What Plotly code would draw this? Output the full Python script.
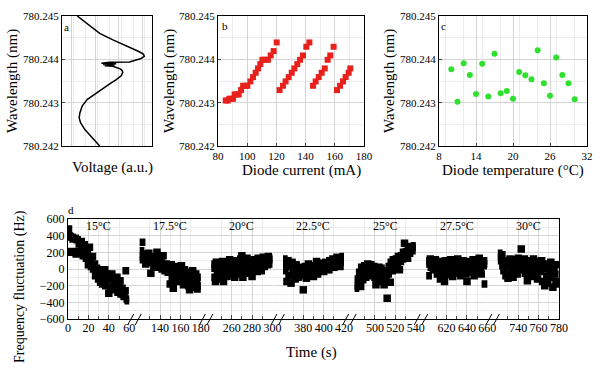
import plotly.graph_objects as go

# ---------------- Panel a: voltage vs wavelength ----------------
volt_a = [0.169, 0.279, 0.419, 0.566, 0.732, 0.853, 0.904, 0.915, 0.879, 0.824,
          0.805, 0.75, 0.53, 0.4375, 0.603, 0.456, 0.585, 0.474, 0.566, 0.621,
          0.647, 0.669, 0.676, 0.658, 0.603, 0.522, 0.4375, 0.353, 0.279, 0.224,
          0.199, 0.191, 0.206, 0.254, 0.316, 0.371, 0.419]
wl_a = [780.24500, 780.24483, 780.24460, 780.24445, 780.24430, 780.24418, 780.24412, 780.24407, 780.24402, 780.24399,
        780.24397, 780.24394, 780.24393, 780.24391, 780.24390, 780.24388, 780.24387, 780.24385, 780.24384, 780.24381,
        780.24378, 780.24374, 780.24370, 780.24362, 780.24353, 780.24342, 780.24330, 780.24319, 780.24307, 780.24292,
        780.24277, 780.24265, 780.24254, 780.24238, 780.24223, 780.24211, 780.24200]

# ---------------- Panel b: diode current vs wavelength ----------------
cur_b = [85.3, 86.6, 87.8, 88.9, 90.3, 91.4, 92.8, 94.2, 95.8, 97.2, 98.8, 100.1, 102.2, 104.0, 105.8,
         107.4, 109.0, 110.4, 112.2, 114.2, 116.1, 118.1, 120.2,
         122.2, 124.5, 126.3, 128.4, 130.5, 132.3, 134.3, 136.2, 138.2, 140.5, 142.6,
         145.1, 146.9, 149.0, 151.0, 153.1, 155.1, 156.9, 159.2,
         161.5, 163.6, 165.6, 167.4, 169.5, 170.6]
wl_b = [780.24305, 780.24305, 780.24309, 780.24309, 780.24309, 780.24319, 780.24319, 780.24319, 780.24329, 780.24339,
        780.24339, 780.24339, 780.24349, 780.24359, 780.24369, 780.24379, 780.24389, 780.24399, 780.24399, 780.24399,
        780.24409, 780.24419, 780.24439,
        780.24329, 780.24339, 780.24349, 780.24359, 780.24369, 780.24379, 780.24389, 780.24399, 780.24409, 780.24429, 780.24439,
        780.24339, 780.24349, 780.24359, 780.24369, 780.24379, 780.24399, 780.24409, 780.24429,
        780.24329, 780.24339, 780.24349, 780.24359, 780.24369, 780.24379]

# ---------------- Panel c: diode temperature vs wavelength ----------------
temp_c = [10, 11, 12, 13, 14, 15, 16, 17, 18, 19, 20, 21, 22, 23, 24, 25, 26, 27, 28, 29, 30]
wl_c = [780.24377, 780.24302, 780.24391, 780.24364, 780.24320, 780.24390, 780.24314, 780.24413, 780.24322, 780.24327,
        780.24309, 780.24371, 780.24363, 780.24354, 780.24421, 780.24345, 780.24316, 780.24404, 780.24364, 780.24345,
        780.24308]

# ---------------- Panel d: frequency fluctuation vs time ----------------
seg_labels = ["15°C", "17.5°C", "20°C", "22.5°C", "25°C", "27.5°C", "30°C"]
seg_start = [0, 120, 240, 360, 480, 600, 720]
seg_ticks = [[0, 20, 40, 60], [140, 160, 180], [260, 280, 300], [380, 400, 420],
             [500, 520, 540], [620, 640, 660], [740, 760, 780]]

t_15 = [0.5, 1, 1.5, 2, 3, 4, 5, 6, 7, 8, 9, 10, 11, 12, 13, 14, 15, 16, 17, 18,
        19, 20, 21, 22, 23, 24, 25, 26, 27, 28, 29, 30, 31, 32, 33, 34, 35, 36, 37, 38,
        39, 40, 41, 42, 43, 44, 45, 46, 47, 48, 49, 50, 51, 52, 53, 54, 55, 56, 57, 58, 59]
f_15 = [480, 400, 200, 390, 210, 380, 360, 200, 370, 180, 350, 210, 300, 190, 330, 250, 160, 290, 230, 130,
        180, 50, 260, 130, 30, 150, 0, 60, -80, 10, -40, -120, -10, -160, -60, -180, -100, -10, -200, -60,
        -130, -290, -90, -220, -60, -250, -130, -170, -240, -100, -280, -200, -140, -300, -230, -280, -330, -260, -20, -360, -380]

t_175 = [121, 121.5, 122, 123, 124, 125, 126, 127, 128, 129, 130, 131, 132, 133, 134, 135, 136, 137, 138, 139,
         140, 141, 142, 143, 144, 145, 146, 147, 148, 149, 150, 151, 152, 153, 154, 155, 156, 157, 158, 159,
         160, 161, 162, 163, 164, 165, 166, 167, 168, 169, 170, 171, 172, 173, 174, 175, 176, 177, 178, 179]
f_175 = [220, 150, 320, 110, 180, 140, 60, 170, 100, 190, 130, -50, 80, 150, 30, 110, 60, 200, 20, 140,
         40, 90, 0, 160, 30, -20, 60, 20, -40, 10, -180, 50, -100, -230, 10, -60, -150, 30, -80, -20,
         -120, 40, -60, -190, -10, -100, -140, -40, -200, -250, -90, -170, -20, -130, -220, -60, -150, -240, -100, -200]

t_20 = [241, 242, 243, 244, 245, 246, 247, 248, 249, 250, 251, 252, 253, 254, 255, 256, 257, 258, 259, 260,
        261, 262, 263, 264, 265, 266, 267, 268, 269, 270, 271, 272, 273, 274, 275, 276, 277, 278, 279, 280,
        281, 282, 283, 284, 285, 286, 287, 288, 289, 290, 291, 292, 293, 294, 295, 296, 297, 298, 299]
f_20 = [60, -100, 10, -150, 80, -60, 30, -120, 0, -40, 90, -150, -30, 50, -90, 20, -60, 110, -20, 40,
        -80, 60, -100, 0, 100, -60, 30, -40, 120, 160, -100, 80, 10, -50, 130, 40, -10, 90, 20, -90,
        60, 110, 0, 70, -30, 130, 40, 100, -20, 80, 140, 30, 90, 120, 50, 150, 60, 110, 130]

t_225 = [361, 362, 363, 364, 365, 366, 367, 368, 369, 370, 371, 372, 373, 374, 375, 376, 377, 378, 379, 380,
         381, 382, 383, 384, 385, 386, 387, 388, 389, 390, 391, 392, 393, 394, 395, 396, 397, 398, 399, 400,
         401, 402, 403, 404, 405, 406, 407, 408, 409, 410, 411, 412, 413, 414, 415, 416, 417, 418, 419]
f_225 = [120, -20, 60, -150, 100, -80, 30, -170, 80, -40, 10, -120, 50, -60, -100, 20, -30, -80, 0, -250,
         -50, 30, -110, -20, 60, -70, 10, -40, 40, -90, 20, -10, 90, -60, 30, -20, 50, 0, 70, -30,
         40, 80, 10, 60, -10, 100, 30, 70, 120, 20, 90, 50, 140, 60, 100, 30, 120, 80, 150]

t_25 = [481, 482, 483, 484, 485, 486, 487, 488, 489, 490, 491, 492, 493, 494, 495, 496, 497, 498, 499, 500,
        501, 502, 503, 504, 505, 506, 507, 508, 509, 510, 511, 512, 513, 514, 515, 516, 517, 518, 519, 520,
        521, 522, 523, 524, 525, 526, 527, 528, 529, 530, 531, 532, 533, 534, 535, 536, 537, 538, 539]
f_25 = [-230, -120, -200, -160, -40, -210, 20, -130, -60, 40, -100, -20, 60, -80, 0, 50, -60, -10, 30, -100,
        -190, -30, -120, 20, -80, 10, -150, -50, -190, -20, -110, -350, -60, 30, -160, 80, -20, 110, 40, 0,
        120, 60, 150, -10, 90, 160, 120, 200, 310, 180, 210, 130, 250, 190, 240, 270, 220, 260, 280]

t_275 = [601, 602, 603, 604, 605, 606, 607, 608, 609, 610, 611, 612, 613, 614, 615, 616, 617, 618, 619, 620,
         621, 622, 623, 624, 625, 626, 627, 628, 629, 630, 631, 632, 633, 634, 635, 636, 637, 638, 639, 640,
         641, 642, 643, 644, 645, 646, 647, 648, 649, 650, 651, 652, 653, 654, 655, 656, 657, 658, 659]
f_275 = [100, -80, 60, 120, 20, 80, -10, 50, 110, 0, -60, 90, 30, -120, 40, -40, 70, -150, 100, 10,
         -70, 60, -20, 110, 30, -90, 80, 0, -50, 40, 120, -30, 60, -80, 20, 100, -10, 70, -60, -150,
         30, 90, -40, 50, 0, 110, -80, 60, 20, -30, 80, 130, 10, -60, 70, 40, 100, -180, 60]

t_30 = [721, 722, 723, 724, 725, 726, 727, 728, 729, 730, 731, 732, 733, 734, 735, 736, 737, 738, 739, 740,
        741, 742, 743, 744, 745, 746, 747, 748, 749, 750, 751, 752, 753, 754, 755, 756, 757, 758, 759, 760,
        761, 762, 763, 764, 765, 766, 767, 768, 769, 770, 771, 772, 773, 774, 775, 776, 777, 778, 779]
f_30 = [190, 140, 100, 170, 40, -20, 60, -80, 100, -110, 20, 120, -40, 80, -100, 50, 10, 110, -60, 130,
        30, 90, 240, -10, 70, 120, -50, 20, -140, 80, 100, -20, 60, -90, 120, 10, -60, 90, -120, 40,
        70, -30, 100, -150, 0, -200, 60, -90, -170, 20, -40, 80, -100, -220, 10, -60, -180, 50, -150]

seg_t = [t_15, t_175, t_20, t_225, t_25, t_275, t_30]
seg_f = [f_15, f_175, f_20, f_225, f_25, f_275, f_30]

# ---------------- layout helpers ----------------
W, H = 600, 375
FONT = "Liberation Serif, Times New Roman, Times, serif"
GRID = "#d4d4d4"
MINOR = "#ececec"
TICK = 11


def fx(p):
    return p / W


def fy(p):
    return 1 - p / H


fig = go.Figure()

fig.add_trace(go.Scatter(x=volt_a, y=wl_a, mode="lines", line=dict(color="black", width=1.5),
                         xaxis="x", yaxis="y", showlegend=False))
fig.add_trace(go.Scatter(x=cur_b, y=wl_b, mode="markers",
                         marker=dict(symbol="square", size=6, color="#e8201c"),
                         xaxis="x2", yaxis="y2", showlegend=False))
fig.add_trace(go.Scatter(x=temp_c, y=wl_c, mode="markers",
                         marker=dict(symbol="circle", size=6, color="#2fe02f"),
                         xaxis="x3", yaxis="y3", showlegend=False))

# background (frame) axis for panel d
fig.add_trace(go.Scatter(x=[0.5], y=[None], mode="markers", xaxis="x4", yaxis="y4",
                         showlegend=False, hoverinfo="skip"))

top_dom_y = [fy(146), fy(16)]
wl_axis = dict(range=[780.242, 780.245], dtick=0.001, tick0=780.242, tickformat=".3f",
               showgrid=True, gridcolor=GRID, gridwidth=1,
               minor=dict(dtick=0.0005, showgrid=True, gridcolor=MINOR, ticks=""),
               showline=True, mirror=True, linecolor="black", linewidth=1,
               ticks="inside", ticklen=3, tickfont=dict(size=TICK), zeroline=False, domain=top_dom_y,
               automargin=False)

layout = dict(
    width=W, height=H, autosize=False, margin=dict(l=0, r=0, t=0, b=0, pad=0),
    paper_bgcolor="white", plot_bgcolor="white",
    font=dict(family=FONT, size=12, color="black"),
    showlegend=False,
    xaxis=dict(domain=[fx(62), fx(152)], range=[0, 1], anchor="y",
               tick0=0.105, dtick=0.263, showticklabels=False, ticks="",
               showgrid=True, gridcolor=GRID,
               minor=dict(dtick=0.1315, showgrid=True, gridcolor=MINOR),
               showline=True, mirror=True, linecolor="black", zeroline=False, automargin=False),
    yaxis=dict(anchor="x", **wl_axis),
    xaxis2=dict(domain=[fx(218), fx(364)], range=[80, 180], dtick=20, anchor="y2",
                showgrid=True, gridcolor=GRID,
                minor=dict(dtick=10, showgrid=True, gridcolor=MINOR, ticks=""),
                ticks="inside", ticklen=3, tickfont=dict(size=TICK),
                showline=True, mirror=True, linecolor="black", zeroline=False, automargin=False),
    yaxis2=dict(anchor="x2", **wl_axis),
    xaxis3=dict(domain=[fx(439), fx(587)], range=[8, 32], tick0=8, dtick=6, anchor="y3",
                showgrid=True, gridcolor=GRID,
                minor=dict(dtick=3, showgrid=True, gridcolor=MINOR, ticks=""),
                ticks="inside", ticklen=3, tickfont=dict(size=TICK),
                showline=True, mirror=True, linecolor="black", zeroline=False, automargin=False),
    yaxis3=dict(anchor="x3", **wl_axis),
    xaxis4=dict(domain=[fx(68), fx(559)], range=[0, 1], anchor="y4",
                showgrid=False, showticklabels=False, ticks="",
                showline=True, mirror=True, linecolor="black", zeroline=False, automargin=False),
    yaxis4=dict(domain=[fy(319), fy(219)], range=[-600, 600], dtick=200, anchor="x4",
                showgrid=True, gridcolor=GRID,
                minor=dict(dtick=100, showgrid=True, gridcolor=MINOR, ticks="inside", ticklen=2),
                ticks="inside", ticklen=4, tickfont=dict(size=12),
                showline=True, mirror=True, linecolor="black", zeroline=False, automargin=False),
)

SEG_W = 61.2
SEG_STEP = 71.633
annotations = []
shapes = []
for i in range(7):
    x0 = 68 + i * SEG_STEP
    x1 = x0 + SEG_W
    ax_id = i + 5
    s = seg_start[i]
    layout[f"xaxis{ax_id}"] = dict(
        domain=[fx(x0), fx(x1)], range=[s, s + 60], anchor="y4",
        tickvals=seg_ticks[i], ticks="inside", ticklen=4, tickfont=dict(size=12),
        showgrid=True, gridcolor=GRID,
        minor=dict(tickvals=[s + k * 10 for k in range(7)], ticks="inside", ticklen=3,
                   showgrid=True, gridcolor=MINOR),
        showline=False, zeroline=False, automargin=False)
    fig.add_trace(go.Scatter(x=seg_t[i], y=seg_f[i], mode="markers",
                             marker=dict(symbol="square", size=7.5, color="black"),
                             xaxis=f"x{ax_id}", yaxis="y4", showlegend=False))
    annotations.append(dict(text=seg_labels[i], x=s + 30, y=520, xref=f"x{ax_id}", yref="y4",
                            showarrow=False, font=dict(size=12)))
    if i < 6:
        for off in (-1.5, 6.0):
            shapes.append(dict(type="line", xref="paper", yref="paper",
                               x0=fx(x1 + off), y0=fy(325), x1=fx(x1 + off + 6), y1=fy(314),
                               line=dict(color="black", width=1)))

# axis titles and panel letters
annotations += [
    dict(text="Wavelength (nm)", x=fx(13), y=fy(81), textangle=-90, font=dict(size=15)),
    dict(text="Wavelength (nm)", x=fx(170), y=fy(81), textangle=-90, font=dict(size=15)),
    dict(text="Wavelength (nm)", x=fx(390), y=fy(81), textangle=-90, font=dict(size=15)),
    dict(text="Voltage (a.u.)", x=fx(112), y=fy(168), font=dict(size=15)),
    dict(text="Diode current (mA)", x=fx(301), y=fy(170), font=dict(size=15)),
    dict(text="Diode temperature (°C)", x=fx(513), y=fy(170), font=dict(size=15)),
    dict(text="Frequency fluctuation (Hz)", x=fx(20), y=fy(287), textangle=-90, font=dict(size=14)),
    dict(text="Time (s)", x=fx(311), y=fy(352), font=dict(size=15)),
    dict(text="a", x=fx(66), y=fy(27), font=dict(size=11)),
    dict(text="b", x=fx(225), y=fy(26), font=dict(size=11)),
    dict(text="c", x=fx(443), y=fy(26), font=dict(size=11)),
    dict(text="d", x=fx(71), y=fy(210), font=dict(size=11)),
]
for a in annotations:
    a.setdefault("xref", "paper")
    a.setdefault("yref", "paper")
    a.setdefault("showarrow", False)
    a.setdefault("xanchor", "center")
    a.setdefault("yanchor", "middle")

layout["annotations"] = annotations
layout["shapes"] = shapes
fig.update_layout(**layout)

fig.write_html("out.html", config={"displayModeBar": False},
               post_script="document.body.style.margin='0';document.body.style.overflow='hidden';")
